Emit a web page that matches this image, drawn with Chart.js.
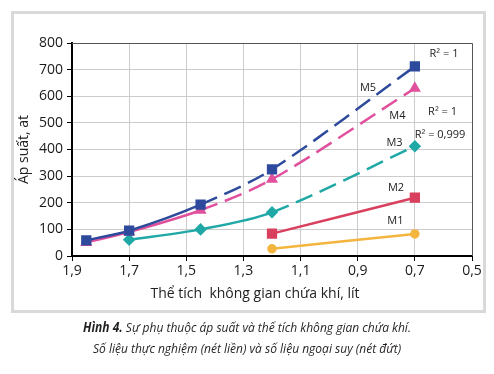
<!DOCTYPE html>
<html lang="vi">
<head>
<meta charset="UTF-8" />
<title>Sự phụ thuộc áp suất và thể tích</title>
<script src="https://cdn.jsdelivr.net/npm/chart.js"></script>
<style>
  body { margin: 0; background: #fff; font-family: "Open Sans", sans-serif; }
  .wrap { position: relative; width: 494px; height: 374px; }
  .frame { position: absolute; left: 11px; top: 11px; width: 469px; height: 296px; border: 3px solid #d9d9d9; }
  canvas { position: absolute; left: 0; top: 0; }
  .xtitle { position: absolute; left: 0; top: 284px; width: 510px; text-align: center; font-size: 14px; line-height: 18px; color: #222; }
  .caption { position: absolute; left: 0; top: 317px; width: 494px; text-align: center; font-style: italic; font-size: 13.5px; line-height: 21px; color: #231f20; transform: scaleX(0.89); transform-origin: 247px 0; }
</style>
</head>
<body>
<div class="wrap">
  <div class="frame"></div>
  <canvas id="chart" width="494" height="374"></canvas>
  <div class="xtitle">Thể tích&nbsp; không gian chứa khí, lít</div>
  <div class="caption"><b>Hình 4.</b> Sự phụ thuộc áp suất và thể tích không gian chứa khí.<br>Số liệu thực nghiệm (nét liền) và số liệu ngoại suy (nét đứt)</div>
</div>
<script>
  // volume (l) and pressure (at) for each sample
  const xM5 = [1.85, 1.7, 1.45, 1.2, 0.7];
  const yM5 = [59, 95, 193, 325, 712];
  const xM4 = [1.85, 1.7, 1.45, 1.2, 0.7];
  const yM4 = [51, 90, 172, 288, 630];
  const xM3 = [1.7, 1.45, 1.2, 0.7];
  const yM3 = [61, 100, 164, 412];
  const xM2 = [1.2, 0.7];
  const yM2 = [84, 219];
  const xM1 = [1.2, 0.7];
  const yM1 = [27, 83];
  // how many points are measured (solid); the rest are extrapolated (dashed)
  const measured = [3, 3, 3, 2, 2];

  const names = ['M5', 'M4', 'M3', 'M2', 'M1'];
  const r2Texts = ['R² = 1', 'R² = 1', 'R² = 0,999'];

  // label anchors in data units
  const nameAt = [[0.864, 631], [0.761, 525], [0.771, 425], [0.766, 256], [0.768, 132]];
  const r2At = [[0.598, 761], [0.603, 542], [0.612, 454]];

  const colors = ['#2e4a9c', '#e0509c', '#1fa8a6', '#d8405e', '#f4b53f'];
  const shapes = ['rect', 'triangle', 'rectRot', 'rect', 'circle'];
  const radii = [5.5, 4.5, 4.5, 5.5, 3.5];
  const xs = [xM5, xM4, xM3, xM2, xM1];
  const ys = [yM5, yM4, yM3, yM2, yM1];

  const datasets = names.map((n, i) => ({
    label: n,
    data: xs[i].map((x, j) => ({ x: x, y: ys[i][j] })),
    borderColor: colors[i],
    backgroundColor: colors[i],
    borderWidth: 2.5,
    pointStyle: shapes[i],
    pointRadius: radii[i],
    tension: 0.3,
    segment: {
      borderDash: ctx => ctx.p0DataIndex >= measured[i] - 1 ? [18, 8] : undefined
    }
  }));

  const fmt = v => v.toFixed(1).replace('.', ',');

  const extras = {
    id: 'extras',
    afterDraw(chart) {
      const { ctx, chartArea: a, scales } = chart;
      ctx.save();
      // top and right border of the plot
      ctx.strokeStyle = '#555';
      ctx.lineWidth = 1;
      ctx.beginPath();
      ctx.moveTo(a.left, a.top + 0.5);
      ctx.lineTo(a.right + 0.5, a.top + 0.5);
      ctx.lineTo(a.right + 0.5, a.bottom);
      ctx.stroke();
      ctx.fillStyle = '#222';
      ctx.font = '11px "Open Sans"';
      ctx.textAlign = 'center';
      ctx.textBaseline = 'middle';
      names.forEach((n, i) => {
        ctx.fillText(n, scales.x.getPixelForValue(nameAt[i][0]), scales.y.getPixelForValue(nameAt[i][1]));
      });
      r2Texts.forEach((t, i) => {
        ctx.fillText(t, scales.x.getPixelForValue(r2At[i][0]), scales.y.getPixelForValue(r2At[i][1]));
      });
      ctx.restore();
    }
  };

  new Chart(document.getElementById('chart'), {
    type: 'line',
    data: { datasets: datasets },
    options: {
      responsive: false,
      devicePixelRatio: 1,
      animation: false,
      layout: { padding: { left: 12, right: 22, top: 43, bottom: 88 } },
      plugins: { legend: { display: false }, tooltip: { enabled: false } },
      scales: {
        x: {
          type: 'linear',
          reverse: true,
          min: 0.5,
          max: 1.9,
          afterFit: s => { s.height = 30; },
          ticks: { stepSize: 0.2, callback: fmt, color: '#1a1a1a', font: { size: 14, family: 'Open Sans' }, padding: 2, maxRotation: 0, autoSkip: false },
          grid: { color: '#cccccc', tickColor: '#000', tickLength: 5 },
          border: { color: '#000', width: 2 }
        },
        y: {
          min: 0,
          max: 800,
          afterFit: s => { s.width = 60; },
          ticks: { stepSize: 100, color: '#1a1a1a', font: { size: 14, family: 'Open Sans' }, padding: 4 },
          grid: { color: '#cccccc', tickColor: '#000', tickLength: 5 },
          border: { color: '#000', width: 2 },
          title: { display: true, text: 'Áp suất, at', color: '#222', font: { size: 14, family: 'Open Sans' }, padding: { top: 4, bottom: 0 } }
        }
      }
    },
    plugins: [extras]
  });
</script>
</body>
</html>
